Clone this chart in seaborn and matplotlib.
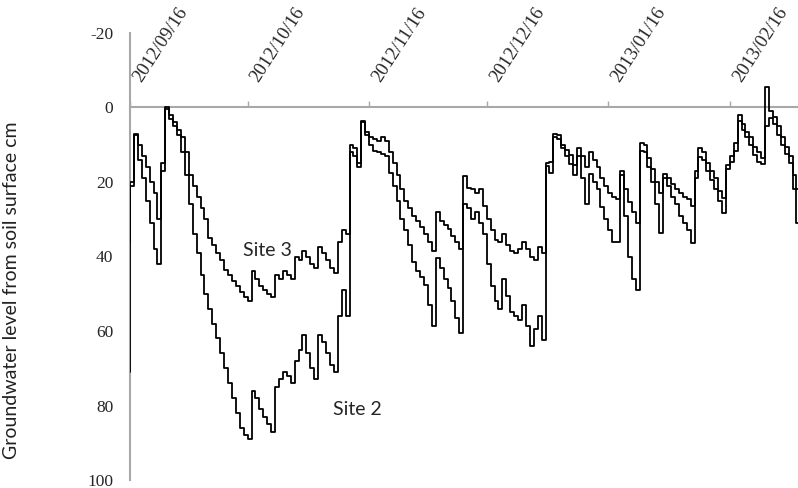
import numpy as np
import pandas as pd
import seaborn as sns
import matplotlib
matplotlib.use('Agg')
import matplotlib.pyplot as plt
import matplotlib.dates as mdates

# Daily groundwater level (cm below soil surface)
site3 = [36, 20, 7, 10, 13, 16, 20, 23, 30, 15,
         0, 2, 4, 6, 8, 12, 18, 21, 24, 27,
         30, 35, 37, 39, 41, 43.5, 45, 46.5, 48, 49.5,
         51, 52, 44, 46, 48, 49, 50, 51, 45, 46,
         44, 45, 46, 40, 41, 38.5, 40, 42, 43, 37.5,
         39, 41, 43, 44.5, 36, 33, 34, 10, 11, 15,
         3.5, 6.5, 8, 8.5, 9, 8, 9, 12, 15, 18,
         22, 25, 27, 29, 30.5, 32, 34, 36, 38.5, 28,
         30.5, 31.5, 32.5, 34.5, 36, 38, 18.5, 21.5, 22, 23,
         22, 26.5, 30, 33, 35.5, 36, 34, 37, 38.5, 39,
         38, 36, 38, 40, 41, 37.5, 39, 15, 14.5, 7,
         7.5, 10, 11.5, 12.7, 15.5, 11, 13, 16, 12, 14,
         16, 19, 21, 23, 24, 24.5, 18, 22, 25.5, 28,
         31, 9.5, 10, 13.5, 16.5, 20, 23, 17.8, 19, 20.5,
         22, 23, 24, 24.5, 26.5, 17, 11, 12, 15, 17,
         19, 22.5, 24.4, 15.5, 13, 9.5, 2, 4.5, 6.5, 8,
         10.5, 12, 13.5, -5.5, 1, 2.5, 5, 8, 10.5, 13,
         18, 22]
site2 = [71, 21, 7.5, 14, 19, 25, 31, 38, 42, 17,
         0.5, 3, 5, 7.5, 12, 18, 26, 34, 39, 45,
         50, 54, 58, 62, 66, 70, 74, 78, 82, 86,
         88, 89, 76, 78, 81, 83, 85, 87, 75, 73,
         71, 72, 74, 68, 65, 61, 66, 70, 73, 61,
         63, 66, 69, 71, 56, 49, 56, 12, 13, 16,
         4, 7.5, 10, 11.7, 12, 12.5, 13, 17.5, 21, 25,
         30, 33, 37, 41.4, 44, 45.5, 47.6, 53, 58.7, 40.5,
         43, 46, 48.5, 52, 56.5, 60.5, 26, 27, 30, 28,
         31, 34, 42, 48, 52, 54, 46, 50.7, 55, 56,
         57, 53, 58.7, 64, 59.5, 56, 62.5, 15.7, 17.5, 8,
         8.5, 11, 13, 15.2, 18, 13, 19, 26, 17.8, 20,
         22, 26.7, 30, 33, 36, 36, 17, 29, 40, 46,
         49, 11.7, 12, 16, 20, 26, 33.7, 19, 21, 24,
         26, 29, 31, 33, 36.5, 19, 13.4, 14, 17, 19.5,
         21.8, 25, 28.4, 16.4, 14.5, 11.6, 3.7, 6, 8, 10,
         12.7, 14.5, 15.2, 5, 2.7, 4.5, 7.5, 10, 12.5, 15,
         22, 31]
date_labels = ['2012/09/16', '2012/10/16', '2012/11/16',
               '2012/12/16', '2013/01/16', '2013/02/16']
y_ticks = [-20, 0, 20, 40, 60, 80, 100]

# Build long-form table
n = len(site3)
dates = pd.date_range('2012-09-16', periods=n, freq='D')
df = pd.DataFrame({
    'date': list(dates) + list(dates),
    'level': site3 + site2,
    'site': ['Site 3'] * n + ['Site 2'] * n,
})

sns.set_style('white')
grey = '#a8a8a8'
serif = 'Liberation Serif'
sans = 'Lato'

fig = plt.figure(figsize=(7.98, 4.88), dpi=100)
ax = fig.add_axes([130 / 798, 8 / 488, 668 / 798, 447 / 488])
sns.lineplot(data=df, x='date', y='level', hue='site',
             palette={'Site 3': 'black', 'Site 2': 'black'},
             drawstyle='steps-pre', linewidth=1.3, errorbar=None,
             legend=False, zorder=3, ax=ax)

# Axis limits (depth increases downward)
start = dates[0]
ax.set_ylim(100, -20)
ax.set_xlim(start, start + pd.Timedelta(days=170.4))

# x axis drawn at level 0 with labels above it
ax.xaxis.tick_top()
ax.spines['top'].set_position(('data', 0))
ax.spines['top'].set_color(grey)
ax.spines['top'].set_linewidth(1.5)
ax.spines['left'].set_color(grey)
ax.spines['left'].set_linewidth(1.5)
ax.spines['bottom'].set_visible(False)
ax.spines['right'].set_visible(False)

# rotated labels: bounding box starts at the tick, above the axis line
ax.set_xticks(pd.to_datetime(date_labels, format='%Y/%m/%d'))
ax.set_xticklabels(date_labels, rotation=57, ha='left', va='bottom',
                   rotation_mode='default', fontfamily=serif, fontsize=13.5)
ax.tick_params(axis='x', direction='out', length=4, width=1, color=grey, pad=12)

ax.set_yticks(y_ticks)
ax.set_yticklabels([str(t) for t in y_ticks], fontfamily=serif, fontsize=12.5)
ax.tick_params(axis='y', direction='out', length=4, width=1, color=grey, pad=8)

ax.set_xlabel('')
ax.set_ylabel('Groundwater level from soil surface cm', fontfamily=sans,
              fontsize=14, color='#222222')
ax.yaxis.set_label_coords(-0.165, 0.425)

# Series labels
ax.text(mdates.date2num(start + pd.Timedelta(days=35)), 38.4, 'Site 3',
        ha='center', va='center', fontsize=14, fontfamily=sans)
ax.text(mdates.date2num(start + pd.Timedelta(days=58)), 81, 'Site 2',
        ha='center', va='center', fontsize=14, fontfamily=sans)

fig.savefig('out.png', dpi=100)
